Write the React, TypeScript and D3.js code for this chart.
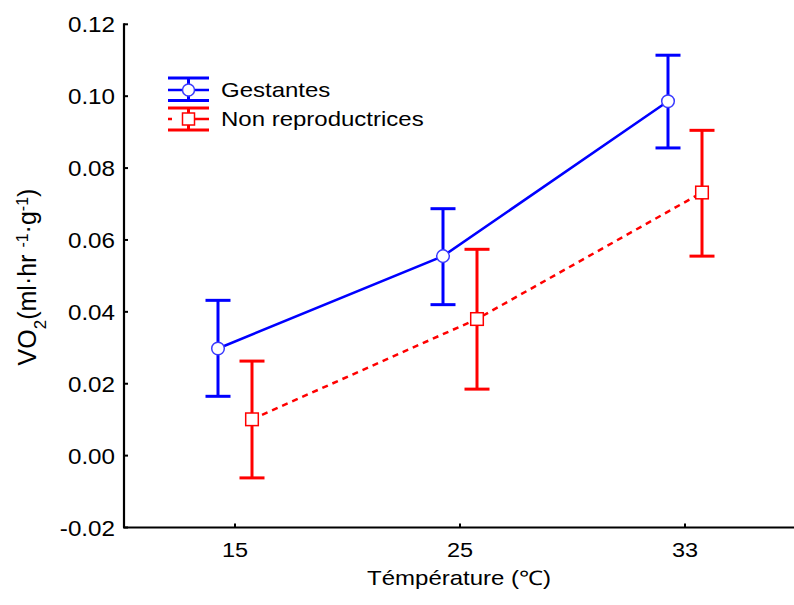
import React from "react";
import * as d3 from "d3";

const categories = ["15", "25", "33"];
const gestMean = [0.0298, 0.0555, 0.0986];
const gestUpper = [0.0432, 0.0687, 0.1114];
const gestLower = [0.0165, 0.042, 0.0856];
const nonMean = [0.0101, 0.038, 0.0732];
const nonUpper = [0.0263, 0.0574, 0.0905];
const nonLower = [-0.0062, 0.0185, 0.0555];
const yTicks = [-0.02, 0, 0.02, 0.04, 0.06, 0.08, 0.1, 0.12];

const BLUE = "#0000ff";
const RED = "#ff0000";
const FONT = "'Liberation Sans', Arial, sans-serif";

function T({ x, y, sx = 1.15, size = 21, anchor = "start", children }: any) {
  return (
    <text transform={`translate(${x},${y}) scale(${sx},1)`} textAnchor={anchor} fontFamily={FONT} fontSize={size} fill="#000">
      {children}
    </text>
  );
}

export default function App() {
  const W = 794, H = 605;
  const left = 124, bottom = 527.5, top = 24.3;
  const x = d3.scalePoint<string>().domain(categories).range([235, 685]);
  const y = d3.scaleLinear().domain([-0.02, 0.12]).range([bottom, top]);
  const off = 17;

  const series = [
    { name: "Gestantes", mean: gestMean, up: gestUpper, lo: gestLower, color: BLUE, dx: -off, dash: "", marker: "circle" },
    { name: "Non reproductrices", mean: nonMean, up: nonUpper, lo: nonLower, color: RED, dx: off, dash: "6,5", marker: "square" },
  ];

  const line = d3.line<[number, number]>().x(d => d[0]).y(d => d[1]);

  return (
    <svg width={W} height={H} style={{ position: "absolute", left: 0, top: 0, background: "#fff" }}>
      <rect x={0} y={0} width={W} height={H} fill="#fff" />
      {/* axes */}
      <line x1={left} y1={top - 1} x2={left} y2={bottom} stroke="#000" strokeWidth={2.2} />
      <line x1={left - 1} y1={bottom} x2={W} y2={bottom} stroke="#000" strokeWidth={2.2} />
      {yTicks.map(t => (
        <g key={t}>
          <line x1={left} x2={left + 4} y1={y(t)} y2={y(t)} stroke="#000" strokeWidth={2} />
          <T x={115} y={y(t) + 8} size={22} sx={1.1} anchor="end">{t.toFixed(2)}</T>
        </g>
      ))}
      {categories.map(c => (
        <g key={c}>
          <line x1={x(c)} x2={x(c)} y1={bottom} y2={bottom - 4} stroke="#000" strokeWidth={2} />
          <T x={x(c)} y={557} size={21} sx={1.12} anchor="middle">{c}</T>
        </g>
      ))}
      <T x={459} y={585} size={20} sx={1.2} anchor="middle">Témpérature (℃)</T>
      <text transform="translate(36,277) rotate(-90)" textAnchor="middle" fontFamily={FONT} fontSize={25} fill="#000">
        VO<tspan baselineShift="sub" fontSize={17}>2</tspan>
        <tspan>(ml·hr </tspan>
        <tspan baselineShift="super" fontSize={16}>-1</tspan>
        <tspan>·g</tspan>
        <tspan baselineShift="super" fontSize={16}>-1</tspan>
        <tspan>)</tspan>
      </text>

      {series.map(s => {
        const pts: [number, number][] = categories.map((c, i) => [(x(c) as number) + s.dx, y(s.mean[i])]);
        return (
          <g key={s.name}>
            <path d={line(pts) || ""} fill="none" stroke={s.color} strokeWidth={2.5} strokeDasharray={s.dash || undefined} />
            {categories.map((c, i) => {
              const cx = (x(c) as number) + s.dx;
              return (
                <g key={c}>
                  <line x1={cx} x2={cx} y1={y(s.up[i])} y2={y(s.lo[i])} stroke={s.color} strokeWidth={3} />
                  <line x1={cx - 12.5} x2={cx + 12.5} y1={y(s.up[i])} y2={y(s.up[i])} stroke={s.color} strokeWidth={3} />
                  <line x1={cx - 12.5} x2={cx + 12.5} y1={y(s.lo[i])} y2={y(s.lo[i])} stroke={s.color} strokeWidth={3} />
                  {s.marker === "circle" ? (
                    <circle cx={cx} cy={y(s.mean[i])} r={6.3} fill="#fff" stroke="#3a3aff" strokeWidth={1.5} />
                  ) : (
                    <rect x={cx - 6.3} y={y(s.mean[i]) - 6.3} width={12.6} height={12.6} fill="#fff" stroke={s.color} strokeWidth={1.5} />
                  )}
                </g>
              );
            })}
          </g>
        );
      })}

      {/* legend */}
      <g>
        <line x1={168} x2={209} y1={78} y2={78} stroke={BLUE} strokeWidth={3} />
        <line x1={168} x2={209} y1={90} y2={90} stroke={BLUE} strokeWidth={2.5} />
        <line x1={168} x2={209} y1={100.5} y2={100.5} stroke={BLUE} strokeWidth={3} />
        <line x1={188.5} x2={188.5} y1={78} y2={100.5} stroke={BLUE} strokeWidth={3} />
        <circle cx={188.5} cy={90} r={6} fill="#fff" stroke="#3a3aff" strokeWidth={1.5} />
        <T x={221} y={97} size={20} sx={1.2}>Gestantes</T>

        <line x1={168} x2={209} y1={108} y2={108} stroke={RED} strokeWidth={3} />
        <line x1={168} x2={209} y1={119} y2={119} stroke={RED} strokeWidth={2.5} strokeDasharray="4,6,0,4,30" />
        <line x1={168} x2={209} y1={130} y2={130} stroke={RED} strokeWidth={3} />
        <line x1={188.5} x2={188.5} y1={108} y2={130} stroke={RED} strokeWidth={3} />
        <rect x={182.5} y={113} width={12} height={12} fill="#fff" stroke={RED} strokeWidth={1.5} />
        <T x={221} y={126} size={20} sx={1.2}>Non reproductrices</T>
      </g>
    </svg>
  );
}
